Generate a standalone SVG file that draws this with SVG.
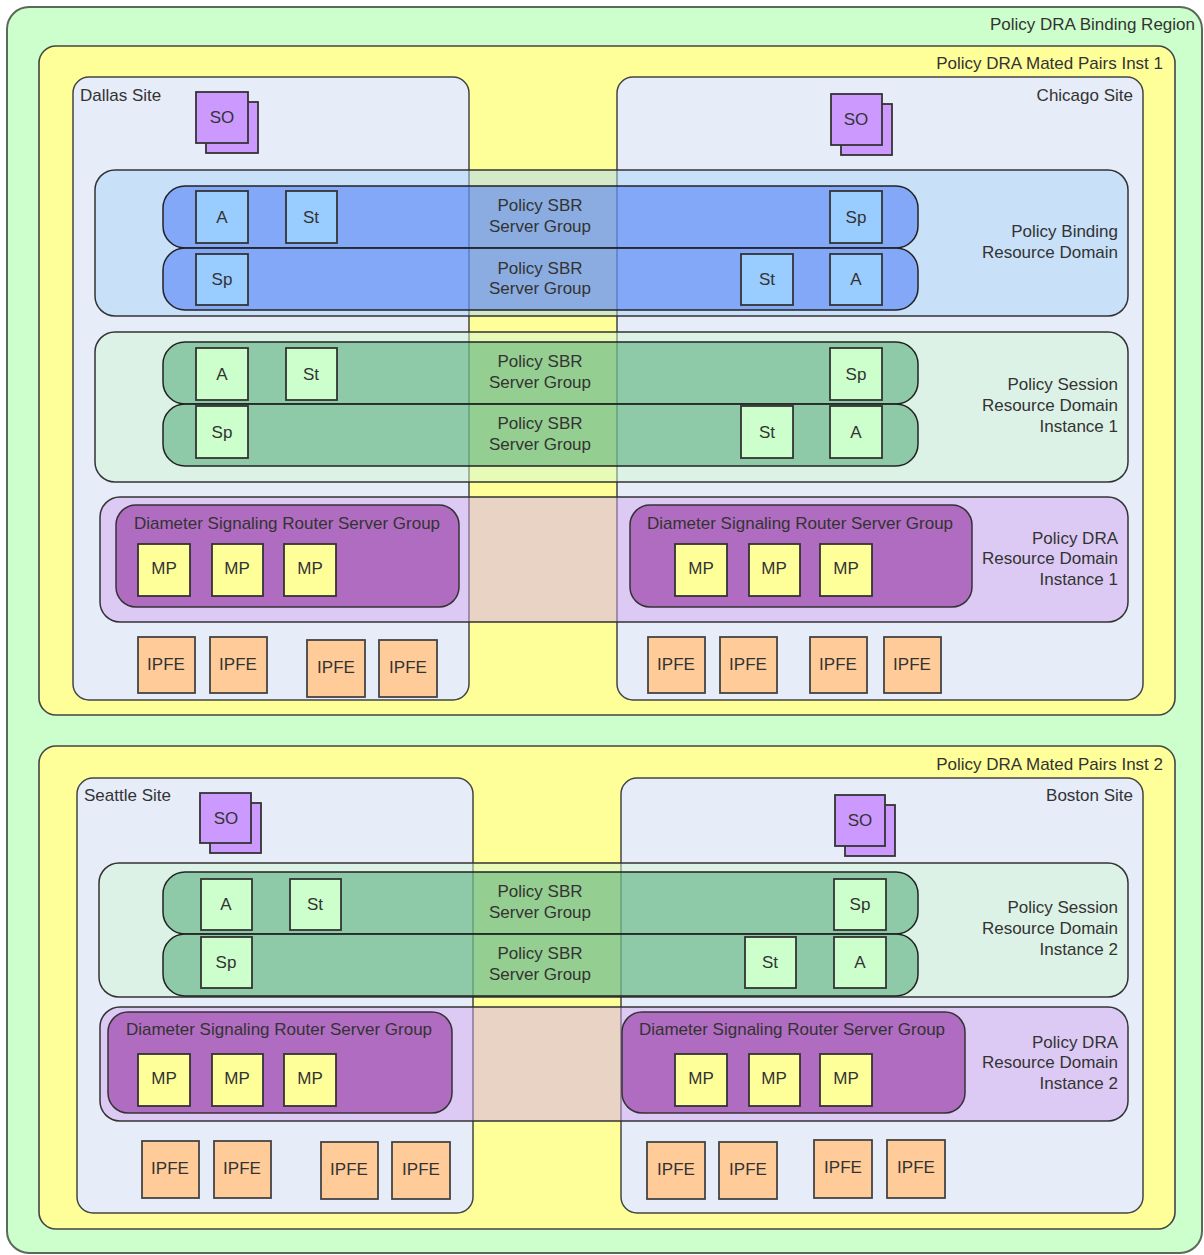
<svg xmlns="http://www.w3.org/2000/svg" width="1204" height="1255" viewBox="0 0 1204 1255">
  <style>
    text { font-family: "Liberation Sans", Arial, sans-serif; font-size: 17px; fill: #333; }
    .c { text-anchor: middle; }
    .r { text-anchor: end; }
    .region { fill: #ccffcc; stroke: #5a6a5a; stroke-width: 2; }
    .inst { fill: #ffff99; stroke: #444; stroke-width: 1.6; }
    .site { fill: #e6ecf8; stroke: #444; stroke-width: 1.5; }
    .dom-bind { fill: #aad4f8; fill-opacity: 0.5; stroke: #333; stroke-width: 1.5; }
    .dom-sess { fill: #d2f8d4; fill-opacity: 0.5; stroke: #333; stroke-width: 1.5; }
    .dom-dra { fill: #d2a8f0; fill-opacity: 0.5; stroke: #333; stroke-width: 1.5; }
    .sg-blue { fill: #4070f8; fill-opacity: 0.5; stroke: #222; stroke-width: 1.5; }
    .sg-green { fill: #40a26a; fill-opacity: 0.5; stroke: #222; stroke-width: 1.5; }
    .dsr { fill: #b06cc0; stroke: #333; stroke-width: 1.5; }
    .n-blue { fill: #99ccff; stroke: #333; stroke-width: 1.8; }
    .n-green { fill: #ccffcc; stroke: #333; stroke-width: 1.8; }
    .n-mp { fill: #ffff99; stroke: #333; stroke-width: 1.8; }
    .n-ipfe { fill: #ffcc99; stroke: #444; stroke-width: 1.8; }
    .n-so { fill: #cc99ff; stroke: #333; stroke-width: 1.8; }
  </style>

  <!-- outer region -->
  <g id="binding-region">
    <rect class="region" x="7" y="7" width="1195" height="1246" rx="22"/>
    <text class="r" x="1195" y="30">Policy DRA Binding Region</text>
  </g>

  <!-- ===== Mated pairs instance 1 ===== -->
  <g id="mated-pairs-1">
    <rect class="inst" x="39" y="46" width="1136" height="669" rx="17"/>
    <text class="r" x="1163" y="69">Policy DRA Mated Pairs Inst 1</text>
  </g>
  <g id="dallas-site">
    <rect class="site" x="73" y="77" width="396" height="623" rx="16"/>
    <text x="80" y="101">Dallas Site</text>
  </g>
  <g id="chicago-site">
    <rect class="site" x="617" y="77" width="526" height="623" rx="16"/>
    <text class="r" x="1133" y="101">Chicago Site</text>
  </g>

  <g id="so-dallas">
    <rect class="n-so" x="206" y="102" width="52" height="51"/>
    <rect class="n-so" x="196" y="92" width="52" height="51"/>
    <text class="c" x="222" y="123">SO</text>
  </g>
  <g id="so-chicago">
    <rect class="n-so" x="841" y="104" width="51" height="51"/>
    <rect class="n-so" x="831" y="94" width="51" height="51"/>
    <text class="c" x="856" y="125">SO</text>
  </g>

  <!-- policy binding resource domain -->
  <g id="binding-domain">
    <rect class="dom-bind" x="95" y="170" width="1033" height="146" rx="20"/>
    <text class="r" x="1118" y="237">Policy Binding</text>
    <text class="r" x="1118" y="258">Resource Domain</text>
  </g>
  <g id="binding-sg-1">
    <rect class="sg-blue" x="163" y="186" width="755" height="62" rx="22"/>
    <text class="c" x="540" y="211">Policy SBR</text>
    <text class="c" x="540" y="232">Server Group</text>
  </g>
  <g id="binding-sg-2">
    <rect class="sg-blue" x="163" y="248" width="755" height="62" rx="22"/>
    <text class="c" x="540" y="274">Policy SBR</text>
    <text class="c" x="540" y="294">Server Group</text>
  </g>
  <g id="b1-a"><rect class="n-blue" x="196" y="191" width="52" height="52"/><text class="c" x="222" y="223">A</text></g>
  <g id="b1-st"><rect class="n-blue" x="286" y="191" width="51" height="52"/><text class="c" x="311" y="223">St</text></g>
  <g id="b1-sp"><rect class="n-blue" x="830" y="191" width="52" height="52"/><text class="c" x="856" y="223">Sp</text></g>
  <g id="b2-sp"><rect class="n-blue" x="196" y="254" width="52" height="51"/><text class="c" x="222" y="285">Sp</text></g>
  <g id="b2-st"><rect class="n-blue" x="741" y="254" width="52" height="51"/><text class="c" x="767" y="285">St</text></g>
  <g id="b2-a"><rect class="n-blue" x="830" y="254" width="52" height="51"/><text class="c" x="856" y="285">A</text></g>

  <!-- policy session resource domain, instance 1 -->
  <g id="session-domain-1">
    <rect class="dom-sess" x="95" y="332" width="1033" height="150" rx="20"/>
    <text class="r" x="1118" y="390">Policy Session</text>
    <text class="r" x="1118" y="411">Resource Domain</text>
    <text class="r" x="1118" y="432">Instance 1</text>
  </g>
  <g id="session1-sg-1">
    <rect class="sg-green" x="163" y="342" width="755" height="62" rx="22"/>
    <text class="c" x="540" y="367">Policy SBR</text>
    <text class="c" x="540" y="388">Server Group</text>
  </g>
  <g id="session1-sg-2">
    <rect class="sg-green" x="163" y="404" width="755" height="62" rx="22"/>
    <text class="c" x="540" y="429">Policy SBR</text>
    <text class="c" x="540" y="450">Server Group</text>
  </g>
  <g id="s1-a"><rect class="n-green" x="196" y="348" width="52" height="52"/><text class="c" x="222" y="380">A</text></g>
  <g id="s1-st"><rect class="n-green" x="286" y="348" width="51" height="52"/><text class="c" x="311" y="380">St</text></g>
  <g id="s1-sp"><rect class="n-green" x="830" y="348" width="52" height="52"/><text class="c" x="856" y="380">Sp</text></g>
  <g id="s2-sp"><rect class="n-green" x="196" y="406" width="52" height="52"/><text class="c" x="222" y="438">Sp</text></g>
  <g id="s2-st"><rect class="n-green" x="741" y="406" width="52" height="52"/><text class="c" x="767" y="438">St</text></g>
  <g id="s2-a"><rect class="n-green" x="830" y="406" width="52" height="52"/><text class="c" x="856" y="438">A</text></g>

  <!-- policy DRA resource domain, instance 1 -->
  <g id="dra-domain-1">
    <rect class="dom-dra" x="100" y="497" width="1028" height="125" rx="20"/>
    <text class="r" x="1118" y="544">Policy DRA</text>
    <text class="r" x="1118" y="564">Resource Domain</text>
    <text class="r" x="1118" y="585">Instance 1</text>
  </g>
  <g id="dsr-dallas">
    <rect class="dsr" x="116" y="505" width="343" height="102" rx="20"/>
    <text class="c" x="287" y="529">Diameter Signaling Router Server Group</text>
  </g>
  <g id="dsr-chicago">
    <rect class="dsr" x="630" y="505" width="342" height="102" rx="20"/>
    <text class="c" x="800" y="529">Diameter Signaling Router Server Group</text>
  </g>
  <g id="mp-d1"><rect class="n-mp" x="138" y="544" width="52" height="52"/><text class="c" x="164" y="574">MP</text></g>
  <g id="mp-d2"><rect class="n-mp" x="212" y="544" width="51" height="52"/><text class="c" x="237" y="574">MP</text></g>
  <g id="mp-d3"><rect class="n-mp" x="284" y="544" width="52" height="52"/><text class="c" x="310" y="574">MP</text></g>
  <g id="mp-c1"><rect class="n-mp" x="675" y="544" width="52" height="52"/><text class="c" x="701" y="574">MP</text></g>
  <g id="mp-c2"><rect class="n-mp" x="749" y="544" width="51" height="52"/><text class="c" x="774" y="574">MP</text></g>
  <g id="mp-c3"><rect class="n-mp" x="820" y="544" width="52" height="52"/><text class="c" x="846" y="574">MP</text></g>

  <g id="ipfe-d1"><rect class="n-ipfe" x="138" y="637" width="57" height="56"/><text class="c" x="166" y="670">IPFE</text></g>
  <g id="ipfe-d2"><rect class="n-ipfe" x="210" y="637" width="57" height="56"/><text class="c" x="238" y="670">IPFE</text></g>
  <g id="ipfe-d3"><rect class="n-ipfe" x="307" y="640" width="58" height="57"/><text class="c" x="336" y="673">IPFE</text></g>
  <g id="ipfe-d4"><rect class="n-ipfe" x="379" y="640" width="58" height="57"/><text class="c" x="408" y="673">IPFE</text></g>
  <g id="ipfe-c1"><rect class="n-ipfe" x="648" y="637" width="57" height="56"/><text class="c" x="676" y="670">IPFE</text></g>
  <g id="ipfe-c2"><rect class="n-ipfe" x="720" y="637" width="57" height="56"/><text class="c" x="748" y="670">IPFE</text></g>
  <g id="ipfe-c3"><rect class="n-ipfe" x="810" y="637" width="57" height="56"/><text class="c" x="838" y="670">IPFE</text></g>
  <g id="ipfe-c4"><rect class="n-ipfe" x="884" y="637" width="57" height="56"/><text class="c" x="912" y="670">IPFE</text></g>

  <!-- ===== Mated pairs instance 2 ===== -->
  <g id="mated-pairs-2">
    <rect class="inst" x="39" y="746" width="1136" height="483" rx="17"/>
    <text class="r" x="1163" y="770">Policy DRA Mated Pairs Inst 2</text>
  </g>
  <g id="seattle-site">
    <rect class="site" x="77" y="778" width="396" height="435" rx="16"/>
    <text x="84" y="801">Seattle Site</text>
  </g>
  <g id="boston-site">
    <rect class="site" x="621" y="778" width="522" height="435" rx="16"/>
    <text class="r" x="1133" y="801">Boston Site</text>
  </g>

  <g id="so-seattle">
    <rect class="n-so" x="210" y="803" width="51" height="50"/>
    <rect class="n-so" x="200" y="793" width="51" height="50"/>
    <text class="c" x="226" y="824">SO</text>
  </g>
  <g id="so-boston">
    <rect class="n-so" x="845" y="805" width="50" height="51"/>
    <rect class="n-so" x="835" y="795" width="50" height="51"/>
    <text class="c" x="860" y="826">SO</text>
  </g>

  <!-- policy session resource domain, instance 2 -->
  <g id="session-domain-2">
    <rect class="dom-sess" x="99" y="863" width="1029" height="134" rx="20"/>
    <text class="r" x="1118" y="913">Policy Session</text>
    <text class="r" x="1118" y="934">Resource Domain</text>
    <text class="r" x="1118" y="955">Instance 2</text>
  </g>
  <g id="session2-sg-1">
    <rect class="sg-green" x="163" y="872" width="755" height="62" rx="22"/>
    <text class="c" x="540" y="897">Policy SBR</text>
    <text class="c" x="540" y="918">Server Group</text>
  </g>
  <g id="session2-sg-2">
    <rect class="sg-green" x="163" y="934" width="755" height="62" rx="22"/>
    <text class="c" x="540" y="959">Policy SBR</text>
    <text class="c" x="540" y="980">Server Group</text>
  </g>
  <g id="t1-a"><rect class="n-green" x="201" y="879" width="51" height="51"/><text class="c" x="226" y="910">A</text></g>
  <g id="t1-st"><rect class="n-green" x="290" y="879" width="51" height="51"/><text class="c" x="315" y="910">St</text></g>
  <g id="t1-sp"><rect class="n-green" x="834" y="879" width="52" height="51"/><text class="c" x="860" y="910">Sp</text></g>
  <g id="t2-sp"><rect class="n-green" x="201" y="937" width="51" height="51"/><text class="c" x="226" y="968">Sp</text></g>
  <g id="t2-st"><rect class="n-green" x="745" y="937" width="51" height="51"/><text class="c" x="770" y="968">St</text></g>
  <g id="t2-a"><rect class="n-green" x="834" y="937" width="52" height="51"/><text class="c" x="860" y="968">A</text></g>

  <!-- policy DRA resource domain, instance 2 -->
  <g id="dra-domain-2">
    <rect class="dom-dra" x="100" y="1007" width="1028" height="114" rx="20"/>
    <text class="r" x="1118" y="1048">Policy DRA</text>
    <text class="r" x="1118" y="1068">Resource Domain</text>
    <text class="r" x="1118" y="1089">Instance 2</text>
  </g>
  <g id="dsr-seattle">
    <rect class="dsr" x="108" y="1012" width="344" height="101" rx="20"/>
    <text class="c" x="279" y="1035">Diameter Signaling Router Server Group</text>
  </g>
  <g id="dsr-boston">
    <rect class="dsr" x="622" y="1012" width="343" height="101" rx="20"/>
    <text class="c" x="792" y="1035">Diameter Signaling Router Server Group</text>
  </g>
  <g id="mp-s1"><rect class="n-mp" x="138" y="1054" width="52" height="52"/><text class="c" x="164" y="1084">MP</text></g>
  <g id="mp-s2"><rect class="n-mp" x="212" y="1054" width="51" height="52"/><text class="c" x="237" y="1084">MP</text></g>
  <g id="mp-s3"><rect class="n-mp" x="284" y="1054" width="52" height="52"/><text class="c" x="310" y="1084">MP</text></g>
  <g id="mp-b1"><rect class="n-mp" x="675" y="1054" width="52" height="52"/><text class="c" x="701" y="1084">MP</text></g>
  <g id="mp-b2"><rect class="n-mp" x="749" y="1054" width="51" height="52"/><text class="c" x="774" y="1084">MP</text></g>
  <g id="mp-b3"><rect class="n-mp" x="820" y="1054" width="52" height="52"/><text class="c" x="846" y="1084">MP</text></g>

  <g id="ipfe-s1"><rect class="n-ipfe" x="142" y="1141" width="57" height="57"/><text class="c" x="170" y="1174">IPFE</text></g>
  <g id="ipfe-s2"><rect class="n-ipfe" x="214" y="1141" width="57" height="57"/><text class="c" x="242" y="1174">IPFE</text></g>
  <g id="ipfe-s3"><rect class="n-ipfe" x="321" y="1142" width="57" height="57"/><text class="c" x="349" y="1175">IPFE</text></g>
  <g id="ipfe-s4"><rect class="n-ipfe" x="392" y="1142" width="58" height="57"/><text class="c" x="421" y="1175">IPFE</text></g>
  <g id="ipfe-b1"><rect class="n-ipfe" x="647" y="1142" width="58" height="57"/><text class="c" x="676" y="1175">IPFE</text></g>
  <g id="ipfe-b2"><rect class="n-ipfe" x="719" y="1142" width="58" height="57"/><text class="c" x="748" y="1175">IPFE</text></g>
  <g id="ipfe-b3"><rect class="n-ipfe" x="814" y="1140" width="58" height="58"/><text class="c" x="843" y="1173">IPFE</text></g>
  <g id="ipfe-b4"><rect class="n-ipfe" x="887" y="1140" width="58" height="58"/><text class="c" x="916" y="1173">IPFE</text></g>

  <!-- no connectors in this layout -->
  <g id="connectors"/>
</svg>
